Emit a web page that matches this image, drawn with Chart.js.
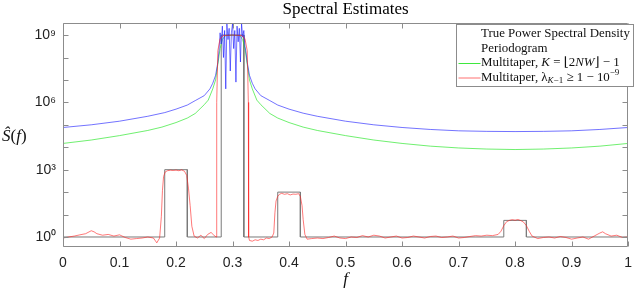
<!DOCTYPE html>
<html><head><meta charset="utf-8">
<script src="https://cdn.jsdelivr.net/npm/chart.js@4/dist/chart.umd.min.js"></script>
<style>html,body{margin:0;padding:0;background:#fff}#wrap{width:640px;height:290px}</style>
</head><body><div id="wrap"><canvas id="c" width="640" height="290"></canvas></div>
<script>
// ---------- data ----------
const titleText = 'Spectral Estimates';
const xTickValues = [0, 0.1, 0.2, 0.3, 0.4, 0.5, 0.6, 0.7, 0.8, 0.9, 1];
const yTickExponents = [0, 1, 2, 3, 4, 5, 6, 7, 8, 9];
const yLabeledExponents = [0, 3, 6, 9];

// True power spectral density (step function)
const trueF = [0, 0.18, 0.18, 0.22, 0.22, 0.28, 0.28, 0.32, 0.32, 0.38, 0.38, 0.42, 0.42, 0.78, 0.78, 0.82, 0.82, 1];
const trueS = [1, 1, 1000, 1000, 1, 1, 1e9, 1e9, 1, 1, 100, 100, 1, 1, 5.5, 5.5, 1, 1];

// Periodogram
const perF = [0, 0.05, 0.1, 0.15, 0.18, 0.2, 0.22, 0.234, 0.25, 0.26, 0.265, 0.27, 0.274,
  0.276, 0.278, 0.28, 0.282, 0.284, 0.286, 0.288, 0.29, 0.292, 0.294, 0.296, 0.298, 0.3,
  0.302, 0.304, 0.306, 0.308, 0.31, 0.312, 0.314, 0.316, 0.318, 0.32, 0.322, 0.324,
  0.326, 0.33, 0.335, 0.34, 0.35, 0.366, 0.38, 0.4, 0.425, 0.45, 0.5, 0.55, 0.6, 0.65, 0.7,
  0.75, 0.8, 0.85, 0.9, 0.95, 1];
const perS = [7.6e4, 1.0e5, 1.45e5, 2.4e5, 3.5e5, 5.0e5, 7.6e5, 1.2e6, 2.0e6, 4.0e6, 7.1e6, 1.6e7, 6e7,
  2.0e8, 1.26e9, 4.0e8, 2.5e9, 1.0e8, 1.6e9, 4.0e6, 3.2e9, 6.3e8, 2.0e9, 2.5e7, 1.26e9, 3.2e9,
  2.5e8, 1.6e9, 8.0e6, 2.5e9, 5.0e8, 2.0e9, 6.3e7, 3.2e9, 8.0e8, 1.6e9, 3.2e8, 1.6e8,
  6e7, 1.6e7, 7.1e6, 4.0e6, 2.0e6, 1.2e6, 7.6e5, 5.0e5, 3.3e5, 2.4e5, 1.45e5, 1.0e5, 7.6e4, 6.2e4, 5.4e4,
  5.1e4, 5.0e4, 5.1e4, 5.4e4, 6.2e4, 7.6e4];

// Multitaper, K = floor(2NW) - 1
const mtKF = [0, 0.05, 0.1, 0.15, 0.175, 0.2, 0.22, 0.234, 0.25, 0.257, 0.265, 0.27, 0.274, 0.278,
  0.282, 0.287, 0.3, 0.313, 0.318, 0.322, 0.326, 0.33, 0.335, 0.343, 0.35, 0.366, 0.38, 0.4,
  0.425, 0.45, 0.5, 0.55, 0.6, 0.65, 0.7, 0.75, 0.8, 0.85, 0.9, 0.95, 1];
const mtKS = [1.48e4, 2.1e4, 3.3e4, 5.6e4, 7.9e4, 1.26e5, 2.0e5, 3.2e5, 7.9e5, 1.26e6, 4.0e6, 1.0e7, 5.0e7, 2.5e8,
  6.3e8, 9.3e8, 1.0e9, 9.3e8, 6.3e8, 2.5e8, 5.0e7, 1.0e7, 4.0e6, 1.26e6, 7.9e5, 3.2e5, 2.0e5, 1.26e5,
  7.9e4, 5.6e4, 3.3e4, 2.1e4, 1.48e4, 1.12e4, 9.3e3, 8.3e3, 7.9e3, 8.3e3, 9.3e3, 1.12e4, 1.48e4];

// Multitaper, lambda_{K-1} >= 1 - 1e-9
const mtLF = [0, 0.01, 0.02, 0.03, 0.04, 0.05, 0.055, 0.06, 0.07, 0.08, 0.09, 0.1, 0.11, 0.12, 0.13, 0.14,
  0.15, 0.16, 0.166, 0.171, 0.174, 0.176, 0.178, 0.181, 0.185, 0.19, 0.195, 0.2, 0.205, 0.21, 0.215,
  0.219, 0.222, 0.225, 0.228, 0.232, 0.238, 0.244, 0.25, 0.256, 0.262, 0.267, 0.271, 0.272, 0.274,
  0.278, 0.284, 0.3, 0.316, 0.322, 0.326, 0.328, 0.3285, 0.33, 0.335, 0.34, 0.345, 0.35, 0.355, 0.36,
  0.365, 0.37, 0.373, 0.375, 0.377, 0.38, 0.383, 0.387, 0.392, 0.397, 0.402, 0.407, 0.412, 0.417,
  0.42, 0.423, 0.425, 0.428, 0.432, 0.44, 0.45, 0.46, 0.47, 0.48, 0.49, 0.5, 0.51, 0.52, 0.53, 0.54,
  0.55, 0.56, 0.57, 0.58, 0.59, 0.6, 0.61, 0.62, 0.63, 0.64, 0.65, 0.66, 0.67, 0.68, 0.69, 0.7, 0.71,
  0.72, 0.73, 0.74, 0.75, 0.76, 0.77, 0.775, 0.78, 0.785, 0.79, 0.795, 0.8, 0.805, 0.81, 0.815, 0.82,
  0.825, 0.83, 0.84, 0.85, 0.86, 0.87, 0.88, 0.89, 0.9, 0.91, 0.92, 0.93, 0.94, 0.95, 0.955, 0.96,
  0.97, 0.98, 0.99, 1];
const mtLS = [0.9, 1.0, 1.1, 1.25, 1.4, 1.9, 1.7, 1.4, 1.2, 1.3, 1.1, 1.25, 0.95, 0.8, 0.85, 0.9,
  1.0, 0.9, 0.55, 0.9, 8, 120, 500, 800, 900, 950, 920, 960, 900, 980, 850,
  550, 150, 25, 3, 1.1, 0.9, 1.2, 0.85, 1.3, 1.6, 1.2, 1.0, 1e6, 2e8,
  7e8, 9.5e8, 1e9, 9.5e8, 7e8, 2e8, 1e6, 1.0, 0.7, 0.65, 0.75, 0.7, 0.8, 0.75, 0.9,
  0.85, 1.0, 1.5, 12, 40, 65, 80, 88, 80, 85, 75, 82, 80, 85,
  65, 25, 6, 1.3, 0.8, 0.85, 0.9, 0.85, 0.95, 1.1, 0.9, 0.85, 1.0, 0.95, 1.15, 1.0,
  1.2, 1.1, 0.9, 1.0, 1.1, 0.9, 0.95, 1.1, 1.0, 0.9, 1.05, 1.1, 0.95, 1.0, 1.1, 0.9, 0.95,
  1.05, 1.15, 1.1, 1.2, 1.15, 1.3, 1.8, 3.2, 4.8, 5.5, 5.9, 5.6, 6.0, 5.4, 4.6, 3.2,
  1.8, 1.1, 0.85, 0.95, 1.0, 0.9, 1.05, 0.95, 0.8, 0.9, 1.0, 0.8, 1.1, 1.5, 1.7, 1.4,
  1.1, 1.2, 0.95, 1.0];

// legend entries (rich text segments: t=text, i=italic, sub/sup)
const legendNames = ['True Power Spectral Density', 'Periodogram', 'Multitaper, K = \u230A2NW\u230B \u2212 1', 'Multitaper, \u03BB_{K\u22121} \u2265 1 \u2212 10^{\u22129}'];
const legendRich = [
  [{t:'True Power Spectral Density'}],
  [{t:'Periodogram'}],
  [{t:'Multitaper, '}, {t:'K', i:1}, {t:' = \u230A2'}, {t:'NW', i:1}, {t:'\u230B \u2212 1'}],
  [{t:'Multitaper, '}, {t:'\u03BB'}, {t:'K', i:1, sub:1}, {t:'\u22121', sub:1}, {t:' \u2265 1 \u2212 10'}, {t:'\u22129', sup:1}]
];
const legendColors = ['rgba(0,0,0,0)', 'rgba(0,0,0,0)', '#3ee83e', '#ff7070'];

// ---------- chart ----------
const pts = (fs, ss) => fs.map((f, i) => ({x: f, y: ss[i]}));
const SUP = {'0':'\u2070','1':'\u00B9','2':'\u00B2','3':'\u00B3','4':'\u2074','5':'\u2075','6':'\u2076','7':'\u2077','8':'\u2078','9':'\u2079'};
const SERIF = "'Liberation Serif', 'DejaVu Serif', serif";

function drawRich(ctx, segs, x, y, size, family) {
  let cx = x;
  for (const s of segs) {
    const sz = (s.sub || s.sup) ? size * 0.7 : size;
    ctx.font = (s.i ? 'italic ' : '') + sz + 'px ' + family;
    const dy = s.sub ? size * 0.28 : (s.sup ? -size * 0.38 : 0);
    ctx.fillText(s.t, cx, y + dy);
    cx += ctx.measureText(s.t).width;
  }
  return cx;
}

const frame = {
  id: 'frame',
  afterDraw(chart) {
    const {ctx, chartArea: a, scales: {x, y}} = chart;
    ctx.save();
    ctx.strokeStyle = '#8c8c8c';
    ctx.lineWidth = 1;
    ctx.beginPath();
    const L = Math.round(a.left) + 0.5, R = Math.round(a.right) - 0.5, T = Math.round(a.top) + 0.5, B = Math.round(a.bottom) - 0.5;
    ctx.rect(L, T, R - L, B - T);
    for (const t of x.ticks) {
      const px = Math.round(x.getPixelForValue(t.value)) + 0.5;
      ctx.moveTo(px, B); ctx.lineTo(px, B - 5);
      ctx.moveTo(px, T); ctx.lineTo(px, T + 5);
    }
    for (const t of y.ticks) {
      const py = Math.round(y.getPixelForValue(t.value)) + 0.5;
      ctx.moveTo(L, py); ctx.lineTo(L + 5, py);
      ctx.moveTo(R, py); ctx.lineTo(R - 5, py);
    }
    ctx.stroke();

    // title centred over the axes
    ctx.fillStyle = '#000';
    ctx.textBaseline = 'middle';
    ctx.textAlign = 'center';
    ctx.font = '17px ' + SERIF;
    ctx.fillText(titleText, (a.left + a.right) / 2, 9.5);
    ctx.textAlign = 'left';

    // y-axis label (horizontal)
    ctx.fillStyle = '#111';
    drawRich(ctx, [{t:'\u015C', i:1}, {t:'('}, {t:'f', i:1}, {t:')'}], 2, (a.top + a.bottom) / 2 + 2, 17, SERIF);

    // legend box
    let size = 13;
    ctx.font = size + 'px ' + SERIF;
    const w0 = ctx.measureText(legendNames[0]).width;
    size = size * 149 / w0;
    const bx = 456.5, by = 24.5, bw = 177, bh = 62;
    ctx.fillStyle = '#fff';
    ctx.fillRect(bx, by, bw, bh);
    ctx.strokeStyle = '#8c8c8c';
    ctx.strokeRect(bx, by, bw, bh);
    for (let i = 0; i < legendRich.length; i++) {
      const cy = by + 9.5 + i * 14.5;
      ctx.strokeStyle = legendColors[i];
      ctx.lineWidth = 1;
      ctx.beginPath(); ctx.moveTo(bx + 2, cy + 0.5); ctx.lineTo(bx + 24, cy + 0.5); ctx.stroke();
      ctx.fillStyle = '#111';
      drawRich(ctx, legendRich[i], bx + 24.5, cy, size, SERIF);
    }
    ctx.restore();
  }
};

new Chart(document.getElementById('c'), {
  type: 'line',
  data: {
    datasets: [
      {label: legendNames[0], data: pts(trueF, trueS), borderColor: '#7a7a7a', borderWidth: 1, order: 4},
      {label: legendNames[1], data: pts(perF, perS), borderColor: 'rgba(20,20,255,0.75)', borderWidth: 0.8, order: 2},
      {label: legendNames[2], data: pts(mtKF, mtKS), borderColor: 'rgba(30,230,30,0.8)', borderWidth: 0.8, order: 3},
      {label: legendNames[3], data: pts(mtLF, mtLS), borderColor: 'rgba(255,30,30,0.75)', borderWidth: 0.8, order: 1}
    ]
  },
  options: {
    responsive: false,
    animation: false,
    devicePixelRatio: 1,
    elements: {point: {radius: 0}, line: {tension: 0}},
    layout: {padding: {left: 0, right: 3, top: 23, bottom: 0}},
    plugins: {
      legend: {display: false},
      tooltip: {enabled: false},
      title: {display: false}
    },
    scales: {
      x: {
        type: 'linear', min: 0, max: 1,
        afterBuildTicks: s => { s.ticks = xTickValues.map(v => ({value: v})); },
        afterFit: s => { s.height = 43; },
        grid: {display: false, drawTicks: false},
        border: {display: false},
        ticks: {padding: 8, color: '#222', font: {family: "'Liberation Sans', Arial, sans-serif", size: 14},
          callback: v => String(Number(v.toFixed(1))), maxRotation: 0, autoSkip: false},
        title: {display: true, text: 'f', color: '#111', padding: {top: 0, bottom: 0},
          font: {family: SERIF, size: 17, style: 'italic'}}
      },
      y: {
        type: 'logarithmic', min: 0.358, max: 3.45e9,
        afterBuildTicks: s => { s.ticks = yTickExponents.map(e => ({value: Math.pow(10, e)})); },
        afterFit: s => { s.width = 63; },
        grid: {display: false, drawTicks: false},
        border: {display: false},
        ticks: {padding: 7, color: '#222', font: {family: "'Liberation Sans', Arial, sans-serif", size: 14}, autoSkip: false,
          callback: v => { const e = Math.round(Math.log10(v)); return yLabeledExponents.includes(e) ? '10' + SUP[String(e)] : ''; }}
      }
    }
  },
  plugins: [frame]
});
</script>
</body></html>
